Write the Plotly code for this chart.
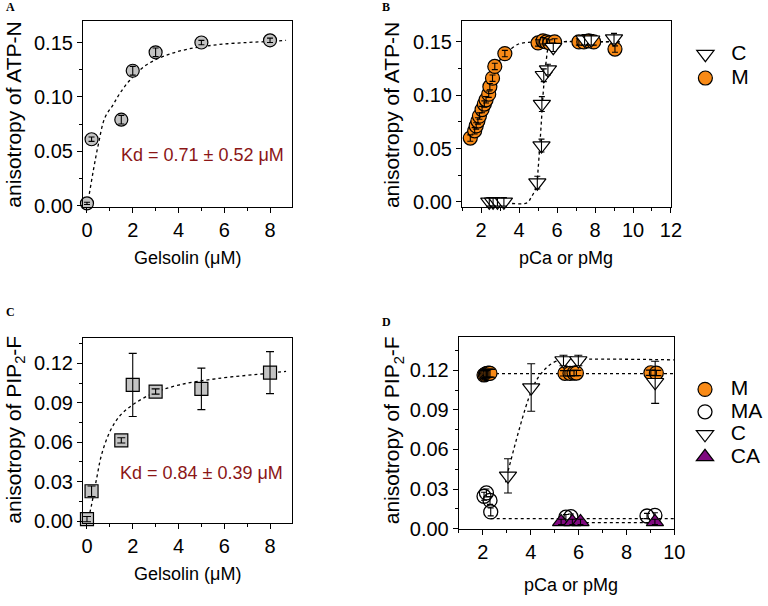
import plotly.graph_objects as go

W, H = 768, 606
FONT = "Liberation Sans, Arial, sans-serif"
ORANGE = "#f98a16"
PURPLE = "#7f0a7f"
GRAY = "#c3c3c3"
WINE = "#8b1616"

# ---------------- Panel A data ----------------
a_x = [0, 0.2, 1.5, 2, 3, 5, 8]
a_y = [0.002, 0.061, 0.079, 0.124, 0.141, 0.150, 0.152]
a_err = [0.001, 0.002, 0.004, 0.004, 0.004, 0.002, 0.002]
a_fit_x = [0.0, 0.07, 0.28, 0.5, 0.78, 1.14, 1.43, 1.86, 2.57, 3.43, 4.43, 5.71, 7.0, 8.0, 8.7]
a_fit_y = [0.0, 0.007, 0.0325, 0.0566, 0.0807, 0.0927, 0.103, 0.115, 0.129, 0.138, 0.144, 0.148, 0.150, 0.151, 0.152]

# ---------------- Panel B data ----------------
bM_x = [1.43, 1.66, 1.74, 1.83, 1.91, 2.05, 2.17, 2.26, 2.40, 2.46, 2.60, 2.72, 3.25,
        5.00, 5.26, 5.44, 5.61, 5.87, 7.15, 7.41, 7.67, 7.93, 9.05]
bM_y = [0.0598, 0.0666, 0.0712, 0.0758, 0.0804, 0.0865, 0.0917, 0.0957, 0.101, 0.108, 0.116, 0.127, 0.139,
        0.149, 0.151, 0.150, 0.149, 0.150, 0.150, 0.150, 0.151, 0.150, 0.1433]
bM_err = [0.003] * 23
bC_x = [2.43, 2.63, 2.86, 3.2, 4.96, 5.18, 5.20, 5.30, 5.52, 5.80, 7.45, 7.80, 9.0]
bC_y = [0.0, 0.0, 0.0, 0.0, 0.018, 0.0528, 0.0917, 0.1187, 0.124, 0.145, 0.152, 0.152, 0.153]
bC_err = [0.004, 0.004, 0.004, 0.004, 0.006, 0.006, 0.007, 0.006, 0.005, 0.004, 0.005, 0.005, 0.005]
bM_fit_x = [1.4, 1.8, 2.2, 2.6, 2.9, 3.2, 3.46, 3.97, 4.48, 5.0, 9.3]
bM_fit_y = [0.058, 0.073, 0.092, 0.115, 0.130, 0.138, 0.1418, 0.148, 0.1495, 0.150, 0.150]
bC_fit_x = [2.69, 3.5, 4.41, 4.66, 4.92, 5.0, 5.09, 5.18, 5.26, 5.35, 5.44, 5.52, 5.7, 6.0, 9.3]
bC_fit_y = [-0.0015, -0.0015, -0.001, 0.005, 0.0145, 0.030, 0.0525, 0.077, 0.100, 0.119, 0.134, 0.1433, 0.149, 0.150, 0.150]

# ---------------- Panel C data ----------------
c_x = [0, 0.2, 1.5, 2, 3, 5, 8]
c_y = [0.0015, 0.0227, 0.0614, 0.1036, 0.0986, 0.1006, 0.113]
c_err = [0.002, 0.004, 0.002, 0.024, 0.002, 0.0158, 0.016]
c_fit_x = [0.07, 0.21, 0.43, 0.64, 1.0, 1.43, 2.0, 2.86, 4.0, 5.71, 8.0, 8.7]
c_fit_y = [0.002, 0.0132, 0.0332, 0.0507, 0.068, 0.080, 0.0885, 0.097, 0.1035, 0.1085, 0.1126, 0.114]

# ---------------- Panel D data ----------------
dM_x = [2.05, 2.10, 2.15, 2.20, 2.25, 2.30, 5.43, 5.64, 5.81, 5.91, 9.02, 9.25]
dM_y = [0.1165, 0.1170, 0.1175, 0.1178, 0.1180, 0.1178, 0.1178, 0.1178, 0.1180, 0.1180, 0.1182, 0.1180]
dM_err = [0.003, 0.003, 0.003, 0.003, 0.003, 0.003, 0.002, 0.002, 0.002, 0.002, 0.002, 0.002]
dMA_x = [2.05, 2.15, 2.30, 2.33, 5.47, 5.68, 8.86, 9.19]
dMA_y = [0.0245, 0.027, 0.0213, 0.0126, 0.0086, 0.0090, 0.0095, 0.0100]
dMA_err = [0.003, 0.003, 0.003, 0.003, 0.002, 0.002, 0.002, 0.002]
dC_x = [3.05, 4.02, 5.37, 5.99, 9.20]
dC_y = [0.040, 0.107, 0.1275, 0.1275, 0.111]
dC_err = [0.013, 0.018, 0.004, 0.004, 0.016]
dCA_x = [5.27, 5.74, 6.08, 9.19]
dCA_y = [0.005, 0.005, 0.005, 0.005]
dCA_err = [0.002, 0.002, 0.002, 0.002]
dM_fit_x = [2.3, 10.0]
dM_fit_y = [0.1175, 0.1175]
dMA_fit_x = [2.33, 10.0]
dMA_fit_y = [0.0075, 0.0075]
dC_fit_x = [2.95, 3.09, 4.04, 4.45, 5.0, 5.5, 10.0]
dC_fit_y = [0.035, 0.046, 0.105, 0.118, 0.1265, 0.128, 0.128]
dCA_fit_x = [5.3, 9.2]
dCA_fit_y = [0.0045, 0.0045]

# ---------------- layout geometry ----------------
def dom_x(l, r):
    return [l / W, r / W]

def dom_y(t, b):
    return [1 - b / H, 1 - t / H]

fig = go.Figure()

def leg_name(s):
    return '<span style="font-size:21px">\u00a0' + s + '</span>'

def add_fit(xs, ys, ax):
    fig.add_trace(go.Scatter(x=xs, y=ys, mode="lines", line=dict(color="black", width=1.3, dash="3px,3px"),
                             line_shape="spline", xaxis="x" + ax, yaxis="y" + ax, showlegend=False,
                             hoverinfo="skip", cliponaxis=False))

def add_pts(xs, ys, ax, symbol, size, fill, name=None, legend=None, rank=None):
    fig.add_trace(go.Scatter(x=xs, y=ys, mode="markers", name=leg_name(name) if name else None,
                             marker=dict(symbol=symbol, size=size, color=fill, line=dict(color="black", width=1.2)),
                             xaxis="x" + ax, yaxis="y" + ax, showlegend=name is not None,
                             legend=legend, legendrank=rank, cliponaxis=False))

def add_err(xs, ys, errs, ax, width=3):
    fig.add_trace(go.Scatter(x=xs, y=ys, mode="markers", marker=dict(size=1, color="rgba(0,0,0,0)"),
                             error_y=dict(type="data", array=errs, visible=True, color="black", thickness=1.1, width=width),
                             xaxis="x" + ax, yaxis="y" + ax, showlegend=False, hoverinfo="skip", cliponaxis=False))

# Panel A (axes x1,y1)
add_fit(a_fit_x, a_fit_y, "")
add_pts(a_x, a_y, "", "circle", 13, GRAY)
add_err(a_x, a_y, a_err, "")

# Panel B (axes x2,y2)
add_fit(bM_fit_x, bM_fit_y, "2")
add_fit(bC_fit_x, bC_fit_y, "2")
add_pts(bM_x, bM_y, "2", "circle", 14, ORANGE, name="M", legend="legend", rank=2)
add_err(bM_x, bM_y, bM_err, "2")
add_pts(bC_x, bC_y, "2", "triangle-down", 15, "white", name="C", legend="legend", rank=1)
add_err(bC_x, bC_y, bC_err, "2")

# Panel C (axes x3,y3)
add_fit(c_fit_x, c_fit_y, "3")
add_pts(c_x, c_y, "3", "square", 13, GRAY)
add_err(c_x, c_y, c_err, "3", width=4)

# Panel D (axes x4,y4)
add_fit(dM_fit_x, dM_fit_y, "4")
add_fit(dMA_fit_x, dMA_fit_y, "4")
add_fit(dC_fit_x, dC_fit_y, "4")
add_fit(dCA_fit_x, dCA_fit_y, "4")
add_pts(dM_x, dM_y, "4", "circle", 14, ORANGE, name="M", legend="legend2", rank=1)
add_err(dM_x, dM_y, dM_err, "4", width=5)
add_pts(dMA_x, dMA_y, "4", "circle-open", 14, "black", name="MA", legend="legend2", rank=2)
add_err(dMA_x, dMA_y, dMA_err, "4")
add_pts(dCA_x, dCA_y, "4", "triangle-up", 15, PURPLE, name="CA", legend="legend2", rank=4)
add_err(dCA_x, dCA_y, dCA_err, "4")
add_pts(dC_x, dC_y, "4", "triangle-down", 15, "white", name="C", legend="legend2", rank=3)
add_err(dC_x, dC_y, dC_err, "4", width=4)

for tr in fig.data:
    if tr.name and "MA" in tr.name:
        tr.marker.line.width = 1.3
        tr.marker.color = "black"

tickfont = dict(family=FONT, size=20, color="black")

def axis(domain, rng, dtick, anchor, fmt=None, minor_dtick=None):
    d = dict(domain=domain, range=rng, dtick=dtick, tick0=0, showline=True, mirror=True,
             linecolor="black", linewidth=1.3, ticks="outside", ticklen=5, tickwidth=1.1,
             tickcolor="black", showgrid=False, zeroline=False, tickfont=tickfont, anchor=anchor,
             minor=dict(ticks="outside", ticklen=3, tickwidth=1, tickcolor="black", dtick=minor_dtick, tick0=0, showgrid=False))
    if fmt:
        d["tickformat"] = fmt
    return d

fig.update_layout(
    width=W, height=H, margin=dict(l=0, r=0, t=0, b=0),
    paper_bgcolor="white", plot_bgcolor="white",
    font=dict(family=FONT, size=18, color="black"),
    xaxis=axis(dom_x(82.7, 296), [-0.17, 8.97], 2, "y", minor_dtick=1),
    yaxis=axis(dom_y(21.7, 211), [-0.0015, 0.1695], 0.05, "x", ".2f", 0.025),
    xaxis2=axis(dom_x(469.3, 682.3), [1, 12], 2, "y2", minor_dtick=1),
    yaxis2=axis(dom_y(21.7, 211), [-0.005, 0.1693], 0.05, "x2", ".2f", 0.025),
    xaxis3=axis(dom_x(82.7, 296), [-0.17, 8.97], 2, "y3", minor_dtick=1),
    yaxis3=axis(dom_y(344.7, 533), [-0.0017, 0.139], 0.03, "x3", ".2f", 0.015),
    xaxis4=axis(dom_x(466, 685.7), [1, 10], 2, "y4", minor_dtick=1),
    yaxis4=axis(dom_y(343.7, 538.3), [0, 0.145], 0.03, "x4", ".2f", 0.015),
    legend=dict(x=697 / W, y=1 - 38 / H, xanchor="left", yanchor="top", bgcolor="rgba(0,0,0,0)",
                font=dict(family=FONT, size=16), tracegroupgap=0, itemwidth=30),
    legend2=dict(x=697 / W, y=1 - 380 / H, xanchor="left", yanchor="top", bgcolor="rgba(0,0,0,0)",
                 font=dict(family=FONT, size=15), tracegroupgap=0, itemwidth=30),
)

ann = []
def text(x, y, s, size=18, angle=0, color="black", family=FONT, xanchor="center"):
    ann.append(dict(x=x / W, y=1 - y / H, xref="paper", yref="paper", text=s, showarrow=False,
                    font=dict(family=family, size=size, color=color), textangle=angle,
                    xanchor=xanchor, yanchor="middle"))

serif = "Liberation Serif, Times New Roman, serif"
text(2, 7, "<b>A</b>", 12, family=serif, xanchor="left")
text(386, 7, "<b>B</b>", 12, family=serif, xanchor="left")
text(2, 318, "<b>C</b>", 12, family=serif, xanchor="left")
text(386, 328, "<b>D</b>", 12, family=serif, xanchor="left")
text(189, 263, "Gelsolin (μM)")
text(575.7, 263, "pCa or pMg")
text(189, 584.7, "Gelsolin (μM)")
text(580.7, 596, "pCa or pMg")
text(12, 117, "anisotropy of ATP-N", 21, angle=-90)
text(398, 117, "anisotropy of ATP-N", 21, angle=-90)
text(13, 438, "anisotropy of PIP<sub>2</sub>-F", 21, angle=-90)
text(399, 438, "anisotropy of PIP<sub>2</sub>-F", 21, angle=-90)
text(205, 158, "Kd = 0.71 ± 0.52 μM", 18, color=WINE)
text(203, 482, "Kd = 0.84 ± 0.39 μM", 18, color=WINE)

fig.update_layout(annotations=ann)
fig.write_html("out.html", config={"displayModeBar": False},
               post_script="document.body.style.margin='0px';document.body.style.overflow='hidden';")
